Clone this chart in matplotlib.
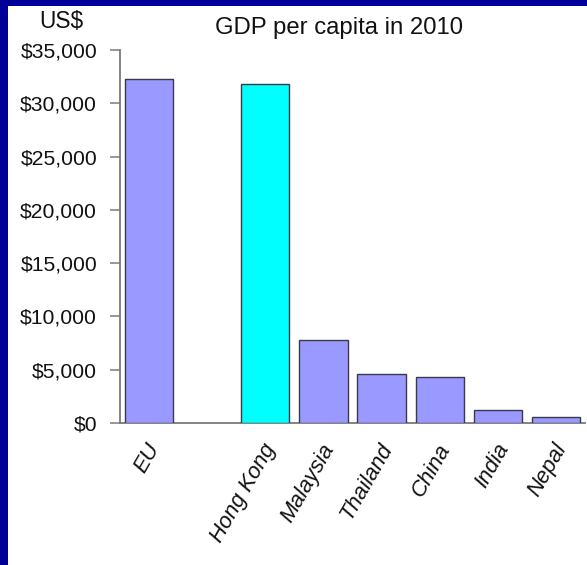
import matplotlib
matplotlib.use("Agg")
import matplotlib.pyplot as plt
from matplotlib.patches import Rectangle
from matplotlib.ticker import FuncFormatter, MultipleLocator
from matplotlib.transforms import ScaledTranslation
import numpy as np

# GDP per capita, 2010 (US$); the empty slot separates the EU from the Asian economies
categories = ["EU", "", "Hong Kong", "Malaysia", "Thailand", "China", "India", "Nepal"]
gdp_per_capita = [32300, np.nan, 31800, 7800, 4600, 4300, 1200, 550]
highlight = "Hong Kong"

title = "GDP per capita in 2010"
unit_label = "US$"

plt.rcParams["font.family"] = ["Liberation Sans", "DejaVu Sans"]

fig = plt.figure(figsize=(5.87, 5.65), dpi=100)
fig.patch.set_facecolor("white")

# dark blue frame along the top and left edges
W, H = 587, 565
fig.patches.append(Rectangle((0, 0), 8 / W, 1, transform=fig.transFigure,
                             facecolor="#000099", edgecolor="none", zorder=0))
fig.patches.append(Rectangle((0, 1 - 6 / H), 1, 6 / H, transform=fig.transFigure,
                             facecolor="#000099", edgecolor="none", zorder=0))

ax = fig.add_axes([120 / W, 1 - 423 / H, 465 / W, 373 / H])

x = np.arange(len(categories))
colors = ["#00FFFF" if c == highlight else "#9999FF" for c in categories]
ax.bar(x, gdp_per_capita, width=0.83, color=colors, edgecolor="#3a3a4a",
       linewidth=1.0, zorder=3)

ax.set_xlim(-0.5, len(categories) - 0.5)
ax.set_ylim(0, 35000)
ax.yaxis.set_major_locator(MultipleLocator(5000))
ax.yaxis.set_major_formatter(FuncFormatter(lambda v, p: f"${v:,.0f}"))

for side in ("top", "right"):
    ax.spines[side].set_visible(False)
for side in ("left", "bottom"):
    ax.spines[side].set_color("#7a7a7a")
    ax.spines[side].set_linewidth(1.3)

ax.tick_params(axis="y", direction="out", length=7.5, width=1.1, color="#7a7a7a",
               pad=9, labelsize=15.2, labelcolor="#111111")

ax.set_xticks(x)
ax.set_xticklabels(categories, rotation=60, ha="right", va="center",
                   rotation_mode="anchor", fontsize=15.8, style="italic",
                   color="#111111")
ax.tick_params(axis="x", length=0, pad=16)
shift = ScaledTranslation(6 / 100, 0, fig.dpi_scale_trans)
for lab in ax.get_xticklabels():
    lab.set_transform(lab.get_transform() + shift)

fig.text(339 / W, 1 - 28 / H, title, ha="center", va="center", fontsize=17.2,
         color="#111111")
fig.text(61 / W, 1 - 21 / H, unit_label, ha="center", va="center", fontsize=16.3,
         color="#111111")

fig.savefig("out.png", dpi=100, facecolor="white")
